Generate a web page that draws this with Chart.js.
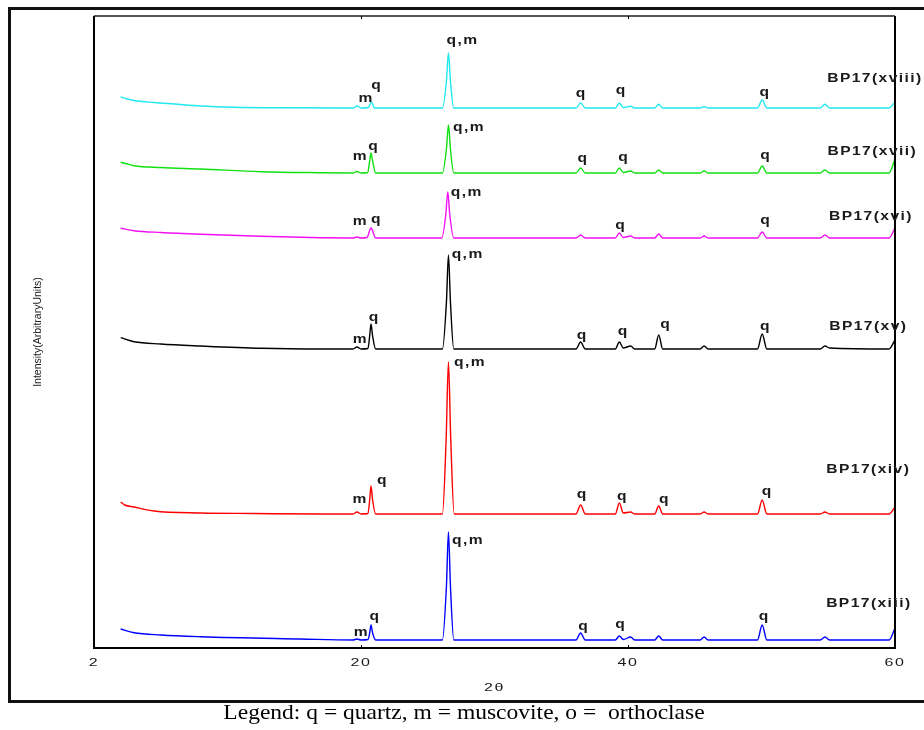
<!DOCTYPE html>
<html>
<head>
<meta charset="utf-8">
<script src="https://cdn.jsdelivr.net/npm/chart.js@4.4.0/dist/chart.umd.min.js"></script>
<style>
  html, body { margin: 0; padding: 0; background: #fff; overflow: hidden; }
  #page { position: relative; width: 924px; height: 730px; overflow: hidden; }
  #box { position: absolute; left: 8px; top: 7px; width: 930px; height: 690px; border: 3px solid #111; pointer-events: none; }
  #grafico { position: absolute; left: 0; top: 0; }
  #leyenda { position: absolute; left: 0; top: 702px; width: 928px; text-align: center;
             font: 21px "Liberation Serif", "Times New Roman", serif; line-height: 21px; white-space: pre; color: #000;
             transform: scaleX(1.12); transform-origin: 464px 0; }
</style>
</head>
<body>
<div id="page">
  <canvas id="grafico" width="924" height="730"></canvas>
  <div id="box"></div>
  <div id="leyenda">Legend: q = quartz, m = muscovite, o =  orthoclase</div>
</div>
<script>
// x ticks (2θ) and their printed text
const ticksX = [0, 20, 40, 60];
const ticksXText = ['2', '20', '40', '60'];

// [2θ, intensity], one array per sample (offset stacked)
const bp17xviii = [[2,551],[2.5,549],[3,547.5],[4.5,545.5],[6,544],[8,542],[10.5,540.8],[14,540.2],[19.4,540],[19.7,542],[20.0,540],[20.55,540.5],[20.8,546],[21.0,540],[26.1,540],[26.4,567],[26.55,595],[26.7,567],[26.95,540],[36.1,540],[36.45,545],[36.8,540],[39.05,540],[39.35,544.7],[39.65,540.5],[40.2,541.7],[40.5,540],[42.0,540],[42.3,543.7],[42.6,540],[45.4,540],[45.7,541.3],[46.0,540],[49.7,540],[50.05,548],[50.4,540],[54.4,540],[54.75,543.7],[55.1,540],[59.55,540],[60,546]];
const bp17xvii = [[2,485.7],[2.5,484],[3,482.3],[5,480.5],[8,479],[12.5,476.3],[17,475.3],[19.4,475],[19.7,476.5],[20.0,475],[20.5,475.5],[20.65,487],[20.75,495],[20.87,487],[21.1,475],[26.1,475],[26.4,499],[26.55,523],[26.7,499],[26.95,475],[36.1,475],[36.45,480],[36.8,475],[39.05,475],[39.35,480],[39.65,475.5],[40.2,477],[40.5,475],[42.0,475],[42.3,478],[42.6,475],[45.4,475],[45.7,477],[46.0,475],[49.7,475],[50.05,482],[50.4,475],[54.4,475],[54.75,478],[55.1,475],[59.55,475],[60,489]];
const bp17xvi = [[2,419.7],[3,417.3],[5,415.5],[8,413.7],[12.5,411.7],[17,410.3],[19.4,410],[19.7,411],[20.0,410],[20.45,410.5],[20.75,420],[21.1,410],[26.05,410],[26.35,433],[26.5,456],[26.65,433],[26.95,410],[36.1,410],[36.45,413],[36.8,410],[39.05,410],[39.35,415],[39.65,410.5],[40.2,412],[40.5,410],[42.0,410],[42.3,414],[42.6,410],[45.4,410],[45.7,412],[46.0,410],[49.7,410],[50.05,416],[50.4,410],[54.4,410],[54.75,413],[55.1,410],[59.55,410],[60,420]];
const bp17xv = [[2,310.3],[3,306.3],[5,304],[8,302],[12.5,299.7],[17,299],[19.4,299],[19.7,301],[20.0,299],[20.52,299.5],[20.65,312],[20.75,324],[20.87,312],[21.1,299],[26.1,299],[26.4,346],[26.55,393],[26.7,346],[26.95,299],[36.1,299],[36.45,306],[36.8,299],[39.05,299],[39.35,306],[39.65,300],[40.2,302],[40.5,299],[42.0,299],[42.3,313],[42.6,299],[45.4,299],[45.7,302],[46.0,299],[49.7,299],[50.05,314],[50.4,299],[54.4,299],[54.75,302],[55.1,300],[59.55,299],[60,308]];
const bp17xiv = [[2,146],[2.3,143],[3,141],[4.5,137],[8,135],[12,134.5],[17,134],[19.4,134],[19.7,136],[20.0,134],[20.52,134.5],[20.65,148],[20.75,162],[20.87,148],[21.1,134],[26.1,134],[26.38,210],[26.55,286],[26.72,210],[26.98,134],[36.1,134],[36.45,143],[36.8,134],[39.05,134],[39.35,145],[39.65,135],[40.2,136],[40.5,134],[42.0,134],[42.3,142],[42.6,134],[45.4,134],[45.7,136],[46.0,134],[49.7,134],[50.05,148],[50.4,134],[54.4,134],[54.75,136],[55.1,134],[59.55,134],[60,141]];
const bp17xiii = [[2,19],[3,15.3],[5,13],[8,11.3],[15.5,9],[19.4,8],[19.7,9],[20.0,8],[20.52,8.5],[20.65,15],[20.75,23],[20.87,15],[21.1,8],[26.1,8],[26.4,62],[26.55,116],[26.7,62],[26.95,8],[36.1,8],[36.45,15],[36.8,8],[39.05,8],[39.35,12],[39.65,8.5],[40.2,11],[40.5,8],[42.0,8],[42.3,12],[42.6,8],[45.4,8],[45.7,11],[46.0,8],[49.7,8],[50.05,23],[50.4,8],[54.4,8],[54.75,11],[55.1,8],[59.55,8],[60,20]];

// peak labels: [text, 2θ, intensity]
const labelsXviii = [['m',20.39,549.5],['q',21.17,562],['q,m',27.6,607],['q',36.5,554],['q',39.5,557],['q',50.27,555],['BP17(xviii)',58.5,569]];
const labelsXvii = [['m',19.95,491],['q',20.95,501],['q,m',28.09,520.5],['q',36.62,489.5],['q',39.68,490.5],['q',50.31,492],['BP17(xvii)',58.3,496.5]];
const labelsXvi = [['m',19.95,426],['q',21.16,428.5],['q,m',27.93,455],['q',39.45,422],['q',50.31,427],['BP17(xvi)',58.2,431.5]];
const labelsXv = [['m',19.95,308],['q',21.0,330.7],['q,m',27.99,393],['q',36.58,312.3],['q',39.64,316.3],['q',42.82,323],['q',50.3,321],['BP17(xv)',58.0,321.3]];
const labelsXiv = [['m',19.94,148],['q',21.6,167.7],['q,m',28.17,285.8],['q',36.58,153.8],['q',39.58,151],['q',42.74,148.8],['q',50.42,156.5],['BP17(xiv)',58.0,178]];
const labelsXiii = [['m',20.03,15],['q',21.04,31],['q,m',28.02,107.8],['q',36.68,21.3],['q',39.46,23.8],['q',50.2,31],['BP17(xiii)',58.04,44.7]];

const series = [
  { name: 'BP17(xviii)', data: bp17xviii, color: '#22e8f2', labels: labelsXviii },
  { name: 'BP17(xvii)', data: bp17xvii, color: '#11e011', labels: labelsXvii },
  { name: 'BP17(xvi)', data: bp17xvi, color: '#f211f2', labels: labelsXvi },
  { name: 'BP17(xv)', data: bp17xv, color: '#000000', labels: labelsXv },
  { name: 'BP17(xiv)', data: bp17xiv, color: '#ff0000', labels: labelsXiv },
  { name: 'BP17(xiii)', data: bp17xiii, color: '#0000ff', labels: labelsXiii }
];

// stretched text, the original fonts are wide
function drawText(ctx, text, x, y, font, sx, spacing, rotate) {
  ctx.save();
  ctx.font = font + ' "Liberation Sans", Arial, sans-serif';
  ctx.letterSpacing = spacing + 'px';
  ctx.fillStyle = '#1a1a1a';
  ctx.textAlign = 'center';
  ctx.textBaseline = 'middle';
  ctx.translate(x, y);
  if (rotate) ctx.rotate(rotate);
  ctx.scale(sx, 1);
  ctx.fillText(text, 0, 0);
  ctx.restore();
}

const framePlugin = {
  id: 'frame',
  afterDatasetsDraw(chart) {
    const { ctx, chartArea: a, scales } = chart;
    ctx.save();
    ctx.lineWidth = 2;
    ctx.strokeStyle = '#555';
    ctx.beginPath(); ctx.moveTo(a.left, a.top); ctx.lineTo(a.right, a.top); ctx.stroke();
    ctx.strokeStyle = '#000';
    ctx.beginPath();
    ctx.moveTo(a.left, a.top); ctx.lineTo(a.left, a.bottom); ctx.lineTo(a.right, a.bottom); ctx.lineTo(a.right, a.top);
    ctx.stroke();
    // little inward ticks
    ctx.lineWidth = 1;
    ticksX.forEach(v => {
      const px = Math.round(scales.x.getPixelForValue(v)) + 0.5;
      ctx.beginPath();
      ctx.moveTo(px, a.top); ctx.lineTo(px, a.top + 3);
      ctx.moveTo(px, a.bottom); ctx.lineTo(px, a.bottom - 3);
      ctx.stroke();
    });
    ctx.restore();

    // peak and sample labels
    series.forEach(s => {
      s.labels.forEach(([t, x, y]) => {
        drawText(ctx, t, scales.x.getPixelForValue(x), scales.y.getPixelForValue(y), 'bold 12px', 1.3, 1.1);
      });
    });

    // axis text
    ticksX.forEach((v, i) => {
      drawText(ctx, ticksXText[i], scales.x.getPixelForValue(v), a.bottom + 15.5, '10px', 1.6, 1);
    });
    drawText(ctx, '2θ', (a.left + a.right) / 2, a.bottom + 40.5, '10px', 1.6, 1);
    drawText(ctx, 'Intensity(ArbitraryUnits)', 38, (a.top + a.bottom) / 2, '10px', 1.05, 0, -Math.PI / 2);
  }
};

const ctx = document.getElementById('grafico').getContext('2d');

new Chart(ctx, {
  type: 'line',
  data: {
    datasets: series.map(s => ({
      label: s.name,
      data: s.data,
      borderColor: s.color,
      backgroundColor: s.color,
      borderWidth: 1.4,
      pointRadius: 0,
      fill: false,
      cubicInterpolationMode: 'monotone'
    }))
  },
  options: {
    responsive: false,
    animation: false,
    layout: { padding: { left: 94, right: 29, top: 16, bottom: 82 } },
    scales: {
      x: { type: 'linear', min: 0, max: 60, display: false },
      y: { type: 'linear', min: 0, max: 632, display: false }
    },
    plugins: {
      legend: { display: false },
      tooltip: { enabled: false }
    }
  },
  plugins: [framePlugin]
});
</script>
</body>
</html>
